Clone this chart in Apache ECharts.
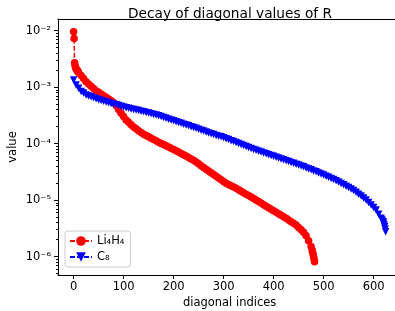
<!DOCTYPE html>
<html>
<head>
<meta charset="utf-8">
<script src="https://cdn.jsdelivr.net/npm/echarts@6/dist/echarts.min.js"></script>
<style>
html, body { margin: 0; padding: 0; background: #fff; }
#chart { width: 395px; height: 311px; }
</style>
</head>
<body>
<div id="chart"></div>
<script>
// diagonal values of R (index, value)
var li4h4Index = [0, 1, 2, 3, 4, 5, 6, 7, 8, 9, 10, 15, 20, 25, 30, 35, 40, 45, 50, 55, 60, 65, 70, 75, 80, 85, 90, 95, 100,
    105, 110, 115, 120, 125, 130, 135, 140, 145, 150, 155, 160, 165, 170, 175, 180, 185, 190, 195, 200,
    205, 210, 215, 220, 225, 230, 235, 240, 245, 250, 255, 260, 265, 270, 275, 280, 285, 290, 295, 300,
    305, 310, 315, 320, 325, 330, 335, 340, 345, 350, 355, 360, 365, 370, 375, 380, 385, 390, 395, 400,
    405, 410, 415, 420, 425, 430, 435, 440, 445, 450, 455, 460, 465, 470, 475, 477, 478, 479, 480, 481, 482];
var li4h4Value = [9.6e-3, 7.3e-3, 2.7e-3, 2.4e-3, 2.24e-3, 2.11e-3, 2.04e-3, 2.0e-3, 1.93e-3, 1.88e-3, 1.82e-3,
    1.61e-3, 1.42e-3, 1.25e-3, 1.14e-3, 1.04e-3, 9.51e-4, 8.67e-4, 8.11e-4, 7.59e-4, 7.08e-4, 6.62e-4,
    6.17e-4, 5.75e-4, 5.37e-4, 4.72e-4, 4.04e-4, 3.45e-4, 3.02e-4, 2.63e-4, 2.39e-4, 2.16e-4, 1.97e-4,
    1.83e-4, 1.70e-4, 1.58e-4, 1.47e-4, 1.39e-4, 1.32e-4, 1.25e-4, 1.186e-4, 1.125e-4, 1.064e-4, 1.01e-4,
    9.64e-5, 9.16e-5, 8.73e-5, 8.30e-5, 7.91e-5, 7.52e-5, 7.11e-5, 6.73e-5, 6.37e-5, 6.03e-5, 5.69e-5,
    5.38e-5, 5.08e-5, 4.72e-5, 4.40e-5, 4.08e-5, 3.80e-5, 3.53e-5, 3.29e-5, 3.05e-5, 2.85e-5, 2.65e-5,
    2.47e-5, 2.30e-5, 2.14e-5, 2.0e-5, 1.90e-5, 1.80e-5, 1.71e-5, 1.63e-5, 1.53e-5, 1.44e-5, 1.36e-5,
    1.28e-5, 1.205e-5, 1.135e-5, 1.07e-5, 1.005e-5, 9.44e-6, 8.87e-6, 8.34e-6, 7.83e-6, 7.36e-6, 6.93e-6,
    6.52e-6, 6.12e-6, 5.75e-6, 5.42e-6, 5.09e-6, 4.79e-6, 4.47e-6, 4.17e-6, 3.89e-6, 3.64e-6, 3.30e-6,
    2.99e-6, 2.70e-6, 2.34e-6, 1.91e-6, 1.51e-6, 1.32e-6, 1.20e-6, 1.10e-6, 1.0e-6, 9.02e-7, 8.13e-7];

var c8Index = [0, 5, 10, 15, 20, 25, 30, 35, 40, 45, 50, 55, 60, 65, 70, 75, 80, 85, 90, 95, 100,
    105, 110, 115, 120, 125, 130, 135, 140, 145, 150, 155, 160, 165, 170, 175, 180, 185, 190, 195, 200,
    205, 210, 215, 220, 225, 230, 235, 240, 245, 250, 255, 260, 265, 270, 275, 280, 285, 290, 295, 300,
    305, 310, 315, 320, 325, 330, 335, 340, 345, 350, 355, 360, 365, 370, 375, 380, 385, 390, 395, 400,
    405, 410, 415, 420, 425, 430, 435, 440, 445, 450, 455, 460, 465, 470, 475, 480, 485, 490, 495, 500,
    505, 510, 515, 520, 525, 530, 535, 540, 545, 550, 555, 560, 565, 570, 575, 580, 585, 590, 595, 600,
    605, 610, 615, 617, 619, 620, 621, 622, 623, 624];
var c8Value = [1.34e-3, 1.094e-3, 9.55e-4, 8.41e-4, 7.85e-4, 7.28e-4, 7.0e-4, 6.75e-4, 6.49e-4, 6.25e-4,
    6.01e-4, 5.82e-4, 5.65e-4, 5.48e-4, 5.32e-4, 5.16e-4, 5.01e-4, 4.88e-4, 4.73e-4, 4.59e-4, 4.47e-4,
    4.34e-4, 4.24e-4, 4.13e-4, 4.04e-4, 3.94e-4, 3.85e-4, 3.75e-4, 3.66e-4, 3.56e-4, 3.48e-4, 3.38e-4,
    3.30e-4, 3.21e-4, 3.13e-4, 3.03e-4, 2.92e-4, 2.82e-4, 2.72e-4, 2.63e-4, 2.54e-4, 2.45e-4, 2.37e-4,
    2.29e-4, 2.21e-4, 2.14e-4, 2.07e-4, 2.0e-4, 1.94e-4, 1.87e-4, 1.80e-4, 1.73e-4, 1.67e-4, 1.61e-4,
    1.55e-4, 1.50e-4, 1.45e-4, 1.40e-4, 1.36e-4, 1.32e-4, 1.27e-4, 1.22e-4, 1.18e-4, 1.13e-4, 1.09e-4,
    1.05e-4, 1.01e-4, 9.66e-5, 9.29e-5, 8.91e-5, 8.57e-5, 8.22e-5, 7.91e-5, 7.64e-5, 7.36e-5, 7.11e-5,
    6.87e-5, 6.62e-5, 6.40e-5, 6.18e-5, 5.97e-5, 5.75e-5, 5.56e-5, 5.37e-5, 5.18e-5, 5.0e-5, 4.82e-5,
    4.66e-5, 4.49e-5, 4.34e-5, 4.18e-5, 4.03e-5, 3.89e-5, 3.73e-5, 3.58e-5, 3.44e-5, 3.30e-5, 3.17e-5,
    3.04e-5, 2.91e-5, 2.78e-5, 2.65e-5, 2.54e-5, 2.42e-5, 2.32e-5, 2.21e-5, 2.09e-5, 1.98e-5, 1.87e-5,
    1.77e-5, 1.67e-5, 1.58e-5, 1.49e-5, 1.38e-5, 1.27e-5, 1.18e-5, 1.09e-5, 1.01e-5, 9.12e-6, 8.22e-6,
    7.43e-6, 6.71e-6, 5.66e-6, 4.79e-6, 4.47e-6, 4.17e-6, 3.89e-6, 3.63e-6, 3.39e-6, 3.09e-6, 2.77e-6];

var xTicks = [0, 100, 200, 300, 400, 500, 600];
var yTicks = [1e-6, 1e-5, 1e-4, 1e-3, 1e-2];
var yTickLabels = ['10\u207B\u2076', '10\u207B\u2075', '10\u207B\u2074', '10\u207B\u00B3', '10\u207B\u00B2'];

var xMin = -31.2, xMax = 655.2;
var yMin = 4.74e-7, yMax = 1.61e-2;

// minor ticks 2..9 x 10^k
var yMinor = [];
[1e-7, 1e-6, 1e-5, 1e-4, 1e-3, 1e-2].forEach(function (d) {
    for (var k = 2; k <= 9; k++) {
        var v = k * d;
        if (v > yMin && v < yMax) yMinor.push(v);
    }
});

function pairs(idx, vals) {
    return idx.map(function (x, i) { return [x, vals[i]]; });
}

var font = 'DejaVu Sans';
var chart = echarts.init(document.getElementById('chart'));
chart.setOption({
    animation: false,
    textStyle: { fontFamily: font },
    title: {
        text: 'Decay of diagonal values of R',
        left: 225, top: 2, textAlign: 'center',
        textStyle: { fontFamily: font, fontSize: 13.7, fontWeight: 'normal', color: '#000' }
    },
    grid: { left: 58, top: 19, width: 343.2, height: 256, outerBoundsMode: 'none' },
    legend: {
        orient: 'vertical',
        left: 65, top: 231,
        padding: [4, 6, 4, 4],
        itemGap: 4,
        itemWidth: 22, itemHeight: 12,
        backgroundColor: '#fff',
        borderColor: '#cccccc', borderWidth: 1, borderRadius: 3,
        textStyle: { fontFamily: font, fontSize: 11.5, color: '#000' },
        data: ['Li\u2084H\u2084', 'C\u2088']
    },
    xAxis: [{
        type: 'value', min: xMin, max: xMax,
        name: 'diagonal indices', nameLocation: 'middle', nameGap: 22,
        nameMoveOverlap: false,
        nameTextStyle: { fontFamily: font, fontSize: 11.5, color: '#000' },
        axisLine: { onZero: false, lineStyle: { color: '#000', width: 1 } },
        axisTick: { customValues: xTicks, length: 4, lineStyle: { color: '#000' } },
        axisLabel: { customValues: xTicks, margin: 6, fontFamily: font, fontSize: 11.5, color: '#000' },
        splitLine: { show: false }
    }, {
        type: 'value', min: xMin, max: xMax, position: 'top',
        axisLine: { onZero: false, lineStyle: { color: '#000', width: 1 } },
        axisTick: { show: false }, axisLabel: { show: false }, splitLine: { show: false }
    }],
    yAxis: [{
        type: 'log', min: yMin, max: yMax,
        name: 'value', nameLocation: 'middle', nameGap: 39,
        nameMoveOverlap: false,
        nameTextStyle: { fontFamily: font, fontSize: 11.5, color: '#000' },
        axisLine: { show: true, onZero: false, lineStyle: { color: '#000', width: 1 } },
        axisTick: { customValues: yTicks, length: 4, lineStyle: { color: '#000' } },
        axisLabel: {
            customValues: yTicks, margin: 7, fontFamily: font, fontSize: 11.5, color: '#000',
            formatter: function (v) {
                var i = yTicks.findIndex(function (t) { return Math.abs(t - v) / t < 1e-6; });
                return i >= 0 ? yTickLabels[i] : '';
            }
        },
        splitLine: { show: false }
    }, {
        type: 'log', min: yMin, max: yMax, position: 'left',
        axisLine: { show: false, onZero: false },
        axisTick: { customValues: yMinor, length: 2, lineStyle: { color: '#000' } },
        axisLabel: { show: false },
        splitLine: { show: false }
    }],
    series: [{
        name: 'Li\u2084H\u2084',
        type: 'line',
        data: pairs(li4h4Index, li4h4Value),
        symbol: 'circle', symbolSize: 7.5,
        itemStyle: { color: '#ff0000' },
        lineStyle: { color: '#ff0000', width: 1.5, type: [5, 2] }
    }, {
        name: 'C\u2088',
        type: 'line',
        data: pairs(c8Index, c8Value),
        symbol: 'triangle', symbolRotate: 180, symbolSize: 7.5,
        itemStyle: { color: '#0000ff' },
        lineStyle: { color: '#0000ff', width: 1.5, type: [5, 2] }
    }]
});
</script>
</body>
</html>
